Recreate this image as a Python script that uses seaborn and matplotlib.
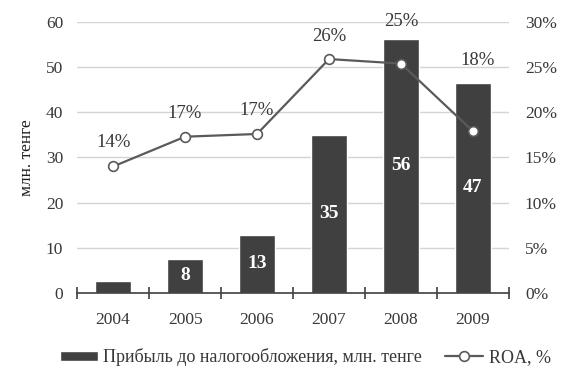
import numpy as np
import pandas as pd
import matplotlib
matplotlib.use("Agg")
import matplotlib.pyplot as plt
import seaborn as sns
from matplotlib.ticker import FixedLocator, PercentFormatter

years = ["2004", "2005", "2006", "2007", "2008", "2009"]
profit = [2.6, 7.6, 12.8, 35.0, 56.3, 46.6]
profit_labels = ["", "8", "13", "35", "56", "47"]
roa = [14.0, 17.3, 17.6, 25.9, 25.4, 17.9]
roa_labels = ["14%", "17%", "17%", "26%", "25%", "18%"]
bar_name = "Прибыль до налогообложения, млн. тенге"
line_name = "ROA, %"
y_label = "млн. тенге"

sns.set_theme(style="white")
plt.rcParams["font.family"] = ["Liberation Serif", "DejaVu Serif"]
plt.rcParams["font.size"] = 12.5

bar_color = "#404040"
line_color = "#5a5a5a"
text_color = "#383838"
fs = 12.5

df = pd.DataFrame({"year": years, "profit": profit, "roa": roa})

fig = plt.figure(figsize=(5.63, 3.74), dpi=100)
ax = fig.add_axes([0.137, 0.217, 0.767, 0.724])

sns.barplot(data=df, x="year", y="profit", ax=ax, color=bar_color,
            saturation=1, width=0.51, zorder=2, label=bar_name)
ax.bar_label(ax.containers[0], labels=profit_labels, label_type="center",
             color="white", fontweight="bold", fontsize=14)

ax.set_ylim(0, 60)
ax.set_yticks(range(0, 61, 10))
ax.yaxis.grid(True, color="#d4d4d4", linewidth=1.0, zorder=0)
ax.set_axisbelow(True)
for s in ["left", "right", "top"]:
    ax.spines[s].set_visible(False)
ax.spines["bottom"].set_color("#404040")
ax.spines["bottom"].set_linewidth(1.2)
ax.set_xlabel("")
ax.set_ylabel(y_label, fontsize=fs, color="#202020", labelpad=8)
ax.tick_params(axis="y", length=0, pad=10, colors=text_color, labelsize=fs)
ax.tick_params(axis="x", which="major", length=0, pad=14, colors=text_color, labelsize=fs)
n = len(years)
ax.xaxis.set_minor_locator(FixedLocator(np.arange(-0.5, n, 1.0)))
ax.tick_params(axis="x", which="minor", bottom=True, direction="inout", length=9,
               width=1.2, color="#404040")
ax.set_xlim(-0.5, n - 0.5)

ax2 = ax.twinx()
sns.pointplot(data=df, x="year", y="roa", ax=ax2, color=line_color,
              markers="o", markersize=7, markerfacecolor="white",
              markeredgecolor=line_color, markeredgewidth=1.2,
              linewidth=1.6, label=line_name, zorder=3)
ax2.set_ylim(0, 30)
ax2.set_yticks(range(0, 31, 5))
ax2.yaxis.set_major_formatter(PercentFormatter(decimals=0))
ax2.set_ylabel("")
for s in ["left", "right", "top", "bottom"]:
    ax2.spines[s].set_visible(False)
ax2.tick_params(axis="y", length=0, pad=11.5, colors=text_color, labelsize=fs)
ax2.set_xlim(-0.5, n - 0.5)

offsets = [(0, 17), (0, 17), (0, 17), (0, 16), (0, 30), (3, 51)]
for i, (v, lab) in enumerate(zip(roa, roa_labels)):
    ax2.annotate(lab, (i, v), xytext=offsets[i], textcoords="offset points",
                 ha="center", va="center", fontsize=13.5, color=text_color)

h1, l1 = ax.get_legend_handles_labels()
h2, l2 = ax2.get_legend_handles_labels()
for a in (ax, ax2):
    if a.get_legend() is not None:
        a.get_legend().remove()
fig.legend(h1 + h2, l1 + l2, loc="center", bbox_to_anchor=(0.542, 0.045), ncol=2,
           frameon=False, fontsize=13, handlelength=2.1, handleheight=0.5,
           columnspacing=1.3, handletextpad=0.3, labelcolor=text_color,
           borderpad=0.1)

fig.savefig("out.png", dpi=100)
